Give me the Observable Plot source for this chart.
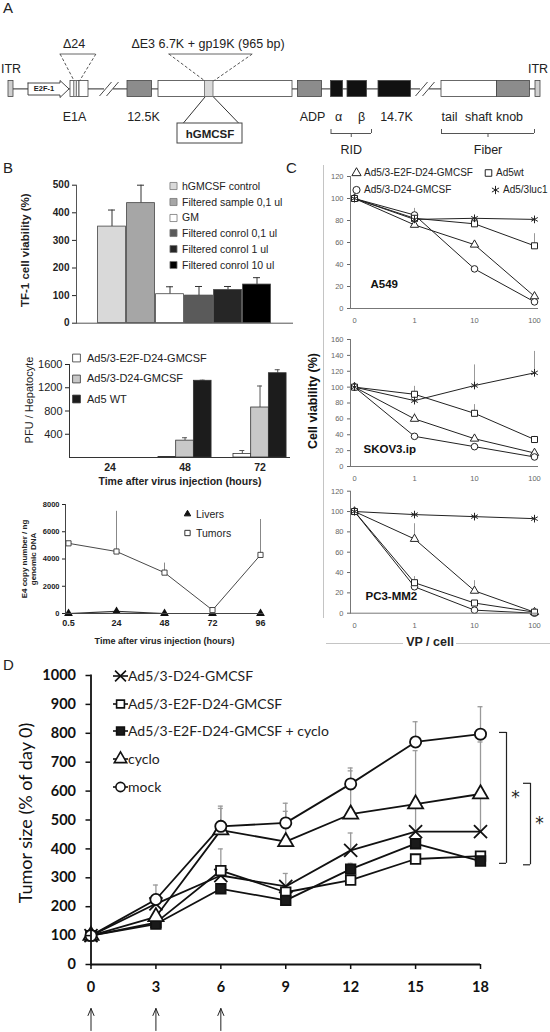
<!DOCTYPE html>
<html>
<head>
<meta charset="utf-8">
<script src="https://cdn.jsdelivr.net/npm/d3@7"></script>
<script src="https://cdn.jsdelivr.net/npm/@observablehq/plot@0.6"></script>
<style>
  html, body { margin: 0; padding: 0; background: #fff; }
  #fig { position: relative; width: 550px; height: 1032px; overflow: hidden; font-family: "Liberation Sans", Arial, sans-serif; color: #222; }
  .deco { position: absolute; line-height: 1; white-space: nowrap; }
</style>
</head>
<body>
<div id="fig"></div>
<script>
// ======================= DATA =======================
// Panel A - genome map (schematic positions along the construct)
const genomeBoxes = [
  {name: "ITR", start: 8, end: 13, kind: "itr"},
  {name: "E1A", start: 70, end: 79, kind: "white"},
  {name: "E1A", start: 79, end: 88, kind: "white"},
  {name: "12.5K", start: 127, end: 151.5, kind: "gray"},
  {name: "E3", start: 158, end: 292, kind: "white"},
  {name: "ADP", start: 297.5, end: 321.5, kind: "gray"},
  {name: "α", start: 330.5, end: 342.5, kind: "black"},
  {name: "β", start: 347, end: 366.5, kind: "black"},
  {name: "14.7K", start: 378, end: 410.5, kind: "black"},
  {name: "Fiber", start: 441, end: 496.5, kind: "white"},
  {name: "Ad3", start: 496.5, end: 529.5, kind: "gray"},
  {name: "ITR", start: 535, end: 540, kind: "itr"}
];
const genomeInserts = [{name: "Δ24", start: 73.7, end: 76.5}, {name: "hGMCSF", start: 204.5, end: 213}];
const genomeBreaks = [99, 415];
const promoter = {name: "E2F-1", start: 27.5, end: 68.5};
const geneLabels = [
  {t: "E1A", x: 74}, {t: "12.5K", x: 143}, {t: "ADP", x: 312}, {t: "α", x: 338}, {t: "β", x: 361},
  {t: "14.7K", x: 396}, {t: "tail", x: 449}, {t: "shaft", x: 478}, {t: "knob", x: 509}
];
const regionBrackets = [{t: "RID", start: 330.5, end: 371}, {t: "Fiber", start: 441, end: 534}];
const deletions = [
  {t: "Δ24", from: 59.6, to: 95.4, insStart: 73.7, insEnd: 79, textX: 73.6},
  {t: "ΔE3 6.7K + gp19K (965 bp)", from: 168.4, to: 251.8, insStart: 204.5, insEnd: 213, textX: 207.5}
];
const hgmcsfCallout = {t: "hGMCSF", from: 177, to: 242, lineTo: [182.5, 238.5]};

// Panel B (top) - TF-1 viability
const tfCategories = ["hGMCSF control", "Filtered sample 0,1 ul", "GM", "Filtered conrol 0,1 ul", "Filtered conrol 1 ul", "Filtered conrol 10 ul"];
const tfViability = [350, 435, 105, 100, 120, 140];
const tfError = [60, 65, 27, 33, 13, 25];

// Panel B (middle) - PFU / hepatocyte
const pfuTimes = ["24", "48", "72"];
const pfuViruses = ["Ad5/3-E2F-D24-GMCSF", "Ad5/3-D24-GMCSF", "Ad5 WT"];
const pfuE2F = [0, 10, 60];
const pfuE2FErr = [0, 0, 60];
const pfuD24 = [0, 290, 860];
const pfuD24Err = [0, 50, 370];
const pfuWT = [0, 1320, 1450];
const pfuWTErr = [0, 10, 60];

// Panel B (bottom) - E4 copy number
const e4Times = ["0.5", "24", "48", "72", "96"];
const e4Tumors = [5150, 4550, 3000, 250, 4300];
const e4TumorsErr = [0, 2950, 700, 0, 2600];
const e4Livers = [0, 150, 0, 0, 0];

// Panel C - cell viability vs VP/cell
const vpDoses = ["0", "1", "10", "100"];
const cViruses = ["Ad5/3-E2F-D24-GMCSF", "Ad5/3-D24-GMCSF", "Ad5wt", "Ad5/3luc1"];
const a549E2F = [100, 76, 58, 11];
const a549D24 = [100, 85, 36, 6];
const a549Wt = [100, 82, 77, 57];
const a549Luc = [100, 81, 82, 81];
const a549E2FErr = [0, 0, 0, 0];
const a549D24Err = [0, 6, 0, 0];
const a549WtErr = [0, 0, 0, 11];
const a549LucErr = [0, 0, 0, 0];
const skovE2F = [100, 60, 35, 17];
const skovD24 = [100, 38, 25, 12];
const skovWt = [100, 91, 67, 34];
const skovLuc = [100, 83, 102, 118];
const skovE2FErr = [0, 7, 0, 0];
const skovD24Err = [0, 0, 0, 0];
const skovWtErr = [0, 10, 11, 4];
const skovLucErr = [0, 0, 26, 27];
const pc3E2F = [100, 73, 22, 1];
const pc3D24 = [100, 26, 3, 0];
const pc3Wt = [100, 30, 10, 1];
const pc3Luc = [100, 97, 95, 93];
const pc3E2FErr = [0, 15, 10, 0];
const pc3D24Err = [0, 0, 0, 0];
const pc3WtErr = [0, 6, 0, 0];
const pc3LucErr = [0, 0, 0, 0];

// Panel D - tumor growth
const days = [0, 3, 6, 9, 12, 15, 18];
const dSeriesNames = ["Ad5/3-D24-GMCSF", "Ad5/3-E2F-D24-GMCSF", "Ad5/3-E2F-D24-GMCSF + cyclo", "cyclo", "mock"];
const dD24 = [100, 210, 308, 270, 395, 460, 460];
const dD24Err = [0, 0, 0, 0, 60, 90, 130];
const dE2F = [100, 145, 325, 250, 292, 365, 375];
const dE2FErr = [0, 0, 75, 65, 0, 0, 0];
const dE2FCyclo = [100, 140, 262, 222, 330, 418, 358];
const dE2FCycloErr = [0, 0, 0, 0, 20, 0, 0];
const dCyclo = [100, 165, 465, 425, 520, 555, 590];
const dCycloErr = [0, 0, 75, 105, 150, 185, 180];
const dMock = [100, 225, 478, 490, 625, 770, 797];
const dMockErr = [0, 50, 70, 68, 55, 70, 95];
const dosingDays = [0, 3, 6];
const sigLow = [350, 345];
const sigHigh = [803, 627];

// ======================= HELPERS =======================
const fig = document.getElementById("fig");
const SANS = "'Liberation Sans', Arial, sans-serif";
const baseStyle = (size, family = SANS) => ({fontFamily: family, fontSize: size + "px", color: "#222", background: "transparent", overflow: "visible"});
function place(node, left, top) {
  node.style.position = "absolute";
  node.style.left = left + "px";
  node.style.top = top + "px";
  fig.append(node);
  return node;
}
function deco(text, left, top, css = "") {
  const d = document.createElement("div");
  d.className = "deco";
  d.textContent = text;
  d.style.cssText += `left:${left}px;top:${top}px;${css}`;
  fig.append(d);
  return d;
}
const symMap = {circle: d3.symbolCircle, square: d3.symbolSquare, triangle: d3.symbolTriangle, times: d3.symbolTimes, asterisk: d3.symbolAsterisk};
function legend(items, o) {
  items.forEach((it, i) => {
    const h = o.rowH || 16;
    const row = document.createElement("div");
    row.style.cssText = `position:absolute;left:${o.left}px;top:${o.top + i * (o.step || 0) - h / 2}px;height:${h}px;display:flex;align-items:center;white-space:nowrap;font-family:${o.font || SANS};font-size:${o.size}px;font-weight:${o.weight || 400};color:#222;line-height:1;`;
    const w = o.swW;
    const svg = d3.create("svg").attr("width", w).attr("height", h).style("flex", "none").style("overflow", "visible");
    if (it.line) svg.append("line").attr("x1", 0).attr("x2", w).attr("y1", h / 2).attr("y2", h / 2).attr("stroke", "#111").attr("stroke-width", it.sw || 1);
    svg.append("path").attr("transform", `translate(${w / 2},${h / 2})`)
      .attr("d", d3.symbol(symMap[it.symbol], Math.PI * it.r * it.r)())
      .attr("fill", it.fill).attr("stroke", it.stroke || "#222").attr("stroke-width", it.sw || 1);
    const span = document.createElement("span");
    span.textContent = it.label;
    span.style.marginLeft = (o.gap || 0) + "px";
    row.append(svg.node(), span);
    fig.append(row);
  });
}
// rotated axis title centred on the frame's left edge
const yTitle = (text, dx, opts = {}) => Plot.text([text], {frameAnchor: "left", textAnchor: "middle", lineAnchor: "middle", rotate: -90, dx, fill: "#222", ...opts});

// ======================= PANEL A =======================
const BB_Y = 88.4, BOX_T = 80.5, BOX_B = 96.5, LBL_Y = 116, BR_Y = 133, BR_T = 149, DEL_Y = 53.5, DEL_T = 43.5;
const kindFill = {itr: "#cfcfcf", white: "#ffffff", gray: "#8c8c8c", black: "#111111"};
const headLen = 9;
const promoterOutline = [
  [promoter.start, BOX_T + 2], [promoter.end - headLen, BOX_T + 2], [promoter.end - headLen, BOX_T - 0.5],
  [promoter.end, BB_Y], [promoter.end - headLen, BOX_B + 0.5], [promoter.end - headLen, BOX_B - 2],
  [promoter.start, BOX_B - 2], [promoter.start, BOX_T + 2]
].map(([x, y]) => ({x, y}));
const itrBoxes = genomeBoxes.filter(d => d.kind === "itr");
const hgIns = genomeInserts[1];
const plotA = Plot.plot({
  width: 550, height: 160, margin: 0,
  x: {domain: [0, 550], range: [0, 550], axis: null},
  y: {domain: [0, 160], range: [0, 160], axis: null},
  style: baseStyle(12.5),
  marks: [
    Plot.ruleY([BB_Y], {x1: genomeBoxes[0].end, x2: genomeBoxes[genomeBoxes.length - 1].start, stroke: "#555", strokeWidth: 1.3}),
    Plot.rect(genomeBreaks, {x1: d => d + 5, x2: d => d + 14, y1: BB_Y - 2.5, y2: BB_Y + 2.5, fill: "white"}),
    Plot.link(genomeBreaks, {x1: d => d, y1: BOX_B - 1, x2: d => d + 12, y2: BOX_T + 1, stroke: "#333", strokeWidth: 0.9}),
    Plot.link(genomeBreaks, {x1: d => d + 7, y1: BOX_B - 1, x2: d => d + 19, y2: BOX_T + 1, stroke: "#333", strokeWidth: 0.9}),
    Plot.rect(genomeBoxes, {x1: "start", x2: "end", y1: BOX_T, y2: BOX_B, fill: d => kindFill[d.kind], stroke: "#444", strokeWidth: 0.8}),
    Plot.rect(genomeInserts, {x1: "start", x2: "end", y1: BOX_T, y2: BOX_B, fill: "#d9d9d9", stroke: "#666", strokeWidth: 0.8}),
    Plot.line(promoterOutline, {x: "x", y: "y", fill: "white", stroke: "#333", strokeWidth: 0.9}),
    Plot.text([promoter], {x: d => (d.start + d.end - headLen) / 2, y: BB_Y, text: "name", fontSize: 7.5, fontWeight: "bold"}),
    Plot.ruleY(deletions, {y: DEL_Y, x1: "from", x2: "to", stroke: "#666", strokeWidth: 1}),
    Plot.link(deletions, {x1: "from", y1: DEL_Y, x2: "insStart", y2: BOX_T, stroke: "#555", strokeDasharray: "3,2"}),
    Plot.link(deletions, {x1: "to", y1: DEL_Y, x2: "insEnd", y2: BOX_T, stroke: "#555", strokeDasharray: "3,2"}),
    Plot.text(deletions, {x: "textX", y: DEL_T, text: "t"}),
    Plot.link([hgmcsfCallout], {x1: () => hgIns.start, y1: BOX_B, x2: d => d.lineTo[0], y2: 123, stroke: "#333"}),
    Plot.link([hgmcsfCallout], {x1: () => hgIns.end, y1: BOX_B, x2: d => d.lineTo[1], y2: 123, stroke: "#333"}),
    Plot.rect([hgmcsfCallout], {x1: "from", x2: "to", y1: 123, y2: 143, fill: "white", stroke: "#444"}),
    Plot.text([hgmcsfCallout], {x: d => (d.from + d.to) / 2, y: 133.5, text: "t", fontWeight: "bold", fontSize: 11.5}),
    Plot.text(geneLabels, {x: "x", y: LBL_Y, text: "t"}),
    Plot.ruleY(regionBrackets, {y: BR_Y, x1: "start", x2: "end", stroke: "#555"}),
    Plot.ruleX(regionBrackets, {x: "start", y1: BR_Y - 4, y2: BR_Y, stroke: "#555"}),
    Plot.ruleX(regionBrackets, {x: "end", y1: BR_Y - 4, y2: BR_Y, stroke: "#555"}),
    Plot.ruleX(regionBrackets, {x: d => (d.start + d.end) / 2, y1: BR_Y, y2: BR_Y + 4, stroke: "#555"}),
    Plot.text(regionBrackets, {x: d => (d.start + d.end) / 2, y: BR_T, text: "t"}),
    Plot.text(itrBoxes, {x: d => (d.start + d.end) / 2, y: 68, text: "name"})
  ]
});
place(plotA, 0, 0);

// ======================= PANEL B top =======================
const tfRows = tfCategories.map((c, i) => ({c, v: tfViability[i], e: tfError[i]}));
const tfFills = ["#d9d9d9", "#a6a6a6", "#ffffff", "#5a5a5a", "#262626", "#000000"];
const plotB1 = Plot.plot({
  width: 300, height: 170, marginLeft: 76, marginRight: 7, marginTop: 14.7, marginBottom: 17.3,
  style: baseStyle(10),
  x: {type: "band", domain: tfCategories, range: [97, 271], padding: 0, axis: null},
  y: {domain: [0, 500]},
  color: {domain: tfCategories, range: tfFills},
  marks: [
    Plot.ruleX(tfRows, {x: "c", y1: "v", y2: d => d.v + d.e, stroke: "#333"}),
    Plot.tickY(tfRows, {x: "c", y: d => d.v + d.e, insetLeft: 11, insetRight: 11, stroke: "#333"}),
    Plot.barY(tfRows, {x: "c", y: "v", fill: "c", stroke: "#444", strokeWidth: 0.8, insetLeft: 0.6, insetRight: 0.6}),
    Plot.ruleY([0], {stroke: "#555"}),
    Plot.frame({anchor: "left", stroke: "#555"}),
    Plot.axisY({ticks: [0, 100, 200, 300, 400, 500], tickFormat: "d", tickSize: 4, tickPadding: 3, fontWeight: "bold", fontSize: 10, label: null}),
    yTitle("TF-1 cell viability (%)", -51, {dy: -4, fontWeight: "bold", fontSize: 11.5})
  ]
});
place(plotB1, 0, 170);
legend(tfCategories.map((c, i) => ({label: c, symbol: "square", r: 4, fill: tfFills[i], stroke: "#777", sw: 0.8})),
  {left: 169, top: 186, step: 15.8, size: 10.5, swW: 9, gap: 4, rowH: 14});

// ======================= PANEL B middle =======================
const pfuValues = [pfuE2F, pfuD24, pfuWT];
const pfuErrors = [pfuE2FErr, pfuD24Err, pfuWTErr];
const pfuFills = ["#ffffff", "#c8c8c8", "#1c1c1c"];
const pfuRows = [];
pfuTimes.forEach((t, gi) => pfuViruses.forEach((v, si) => pfuRows.push({t, gi, si, v: pfuValues[si][gi], e: pfuErrors[si][gi]})));
const GRP_OFF = 0.093, BAR_W = 0.236;
const barX1 = d => d.gi + GRP_OFF + d.si * BAR_W;
const barX2 = d => d.gi + GRP_OFF + (d.si + 1) * BAR_W;
const barXc = d => d.gi + GRP_OFF + (d.si + 0.5) * BAR_W;
const grpCenter = GRP_OFF + 1.5 * BAR_W;
const plotB2 = Plot.plot({
  width: 300, height: 160, marginLeft: 69, marginRight: 10, marginTop: 24, marginBottom: 43,
  style: baseStyle(11),
  x: {domain: [0, 3], range: [76, 301]},
  y: {domain: [0, 1600]},
  marks: [
    Plot.ruleX(pfuRows.filter(d => d.e > 0), {x: barXc, y1: "v", y2: d => d.v + d.e, stroke: "#555"}),
    Plot.ruleY(pfuRows.filter(d => d.e > 0), {y: d => d.v + d.e, x1: barXc, x2: barXc, insetLeft: -2.5, insetRight: -2.5, stroke: "#555"}),
    Plot.rect(pfuRows, {x1: barX1, x2: barX2, y1: 0, y2: "v", fill: d => pfuFills[d.si], stroke: "#333", strokeWidth: 0.8}),
    Plot.ruleY([0], {stroke: "#333"}),
    Plot.frame({anchor: "left", stroke: "#333"}),
    Plot.axisY({ticks: [400, 800, 1200, 1600], tickFormat: "d", tickSize: 4, tickPadding: 3, fontSize: 11, fill: "#222", label: null}),
    yTitle("PFU / Hepatocyte", -40, {dy: -11, fontSize: 11}),
    Plot.axisX({ticks: pfuTimes.map((t, i) => i + grpCenter), tickFormat: d => pfuTimes[Math.round(d - grpCenter)],
      tickSize: 0, tickPadding: 6, fontWeight: "bold", fontSize: 10.5, label: null}),
    Plot.text(["Time after virus injection (hours)"], {frameAnchor: "bottom", dy: 27, fontWeight: "bold", fontSize: 10.5, fill: "#222"})
  ]
});
place(plotB2, 0, 340);
legend(pfuViruses.map((v, i) => ({label: v, symbol: "square", r: 4.4, fill: pfuFills[i], stroke: "#333", sw: 0.8})),
  {left: 72, top: 358, step: 20.7, size: 11, swW: 9, gap: 6, rowH: 16});

// ======================= PANEL B bottom =======================
const e4Rows = e4Times.map((t, i) => ({t, v: e4Tumors[i], e: e4TumorsErr[i]}));
const liverRows = e4Times.map((t, i) => ({t, v: e4Livers[i]}));
const plotB3 = Plot.plot({
  width: 290, height: 160, marginLeft: 65, marginRight: 27, marginTop: 14, marginBottom: 37,
  style: baseStyle(8),
  x: {type: "point", domain: e4Times, padding: 0.0625},
  y: {domain: [0, 8000]},
  marks: [
    Plot.ruleX(e4Rows.filter(d => d.e > 0), {x: "t", y1: "v", y2: d => d.v + d.e, stroke: "#888"}),
    Plot.line(e4Rows, {x: "t", y: "v", stroke: "#333", strokeWidth: 0.9}),
    Plot.line(liverRows, {x: "t", y: "v", stroke: "#333", strokeWidth: 1.2}),
    Plot.dot(liverRows, {x: "t", y: "v", symbol: "triangle", r: 2.3, fill: "#111", stroke: "#111"}),
    Plot.dot(e4Rows, {x: "t", y: "v", symbol: "square", r: 2.9, fill: "white", stroke: "#333", strokeWidth: 0.9}),
    Plot.ruleY([0], {stroke: "#444"}),
    Plot.frame({anchor: "left", stroke: "#444"}),
    Plot.axisY({ticks: [0, 2000, 4000, 6000, 8000], tickFormat: "d", tickSize: 3, tickPadding: 3, fontWeight: "bold", fontSize: 7.5, label: null}),
    Plot.axisX({tickSize: 0, tickPadding: 6, fontWeight: "bold", fontSize: 9,
      label: "Time after virus injection (hours)", labelAnchor: "center", labelArrow: "none", labelOffset: 30}),
    yTitle("E4 copy number / ng\ngenomic DNA", -36.5, {fontWeight: "bold", fontSize: 8, lineHeight: 1.1})
  ]
});
place(plotB3, 0, 490);
legend([{label: "Livers", symbol: "triangle", r: 2.4, fill: "#111", stroke: "#111"}, {label: "Tumors", symbol: "square", r: 3, fill: "white", stroke: "#333"}],
  {left: 183, top: 514, step: 19.3, size: 10.5, swW: 9, gap: 4, rowH: 14});

// ======================= PANEL C =======================
const cSymbols = ["triangle", "circle", "square", "asterisk"];
const cRadius = [3.1, 3.3, 3.4, 3.6];
function cellPanel({top, height, mt, mb, ymax, name, series, errs, nameDx, nameDy, extra = []}) {
  const rows = [];
  cViruses.forEach((virus, si) => series[si].forEach((v, di) => rows.push({virus, si, dose: vpDoses[di], v, e: errs[si][di]})));
  const plot = Plot.plot({
    width: 280, height, marginLeft: 80, marginRight: 12, marginTop: mt, marginBottom: mb,
    style: baseStyle(7.5),
    x: {type: "point", domain: vpDoses, padding: 0.05},
    y: {domain: [0, ymax]},
    marks: [
      Plot.ruleX(rows.filter(d => d.e > 0), {x: "dose", y1: "v", y2: d => d.v + d.e, stroke: "#999", strokeWidth: 1}),
      Plot.line(rows, {x: "dose", y: "v", z: "virus", stroke: "#222", strokeWidth: 1}),
      ...cViruses.map((virus, si) => Plot.dot(rows.filter(d => d.si === si), {x: "dose", y: "v", symbol: cSymbols[si], r: cRadius[si],
        fill: si === 3 ? "none" : "white", stroke: "#222", strokeWidth: 1})),
      Plot.ruleY([0], {stroke: "#777"}),
      Plot.frame({anchor: "left", stroke: "#777"}),
      Plot.axisY({ticks: d3.range(0, ymax + 1, 20), tickFormat: "d", tickSize: 3, tickPadding: 4, color: "#666", fontSize: 7.5, label: null}),
      Plot.axisX({tickSize: 0, tickPadding: 9, color: "#666", fontSize: 7.5, label: null}),
      Plot.text([name], {frameAnchor: "bottom-left", dx: nameDx, dy: nameDy, fontWeight: "bold", fontSize: 11.5, textAnchor: "start", fill: "#111"}),
      ...extra
    ]
  });
  return place(plot, 270, top);
}
cellPanel({top: 170, height: 160, mt: 6, mb: 22, ymax: 120, name: "A549",
  series: [a549E2F, a549D24, a549Wt, a549Luc], errs: [a549E2FErr, a549D24Err, a549WtErr, a549LucErr], nameDx: 20, nameDy: -21});
cellPanel({top: 330, height: 160, mt: 9, mb: 24, ymax: 160, name: "SKOV3.ip",
  series: [skovE2F, skovD24, skovWt, skovLuc], errs: [skovE2FErr, skovD24Err, skovWtErr, skovLucErr], nameDx: 13, nameDy: -14,
  extra: [yTitle("Cell viability (%)", -38, {dy: -2, fontWeight: "bold", fontSize: 12.5, fill: "#111"})]});
cellPanel({top: 480, height: 160, mt: 10.7, mb: 27.3, ymax: 120, name: "PC3-MM2",
  series: [pc3E2F, pc3D24, pc3Wt, pc3Luc], errs: [pc3E2FErr, pc3D24Err, pc3WtErr, pc3LucErr], nameDx: 15, nameDy: -13});
// legend of panel C (two columns)
const cLegendPos = [[352, 173], [352, 190], [484, 173], [491, 190]];
cViruses.forEach((v, i) => legend([{label: v, symbol: cSymbols[i], r: cRadius[i] + 0.3, fill: i === 3 ? "none" : "white", stroke: "#222"}],
  {left: cLegendPos[i][0], top: cLegendPos[i][1], size: 10, swW: 9, gap: 3, rowH: 14}));

// ======================= PANEL D =======================
const dValues = [dD24, dE2F, dE2FCyclo, dCyclo, dMock];
const dErrors = [dD24Err, dE2FErr, dE2FCycloErr, dCycloErr, dMockErr];
const dSymbols = ["times", "square", "square", "triangle", "circle"];
const dFills = ["none", "white", "#1a1a1a", "white", "white"];
const dRadius = [6, 5.4, 5.4, 5.6, 5.6];
const dRows = [];
dSeriesNames.forEach((s, si) => days.forEach((day, di) => dRows.push({s, si, day, v: dValues[si][di], e: dErrors[si][di]})));
const dErr = dRows.filter(d => d.e > 0);
const sig = sigLow.map((lo, i) => ({lo, hi: sigHigh[i], i}));
const thinArrow = {draw(ctx, l) { ctx.moveTo(0, 0); ctx.lineTo(0, -l); ctx.moveTo(-3, -l + 7); ctx.lineTo(0, -l); ctx.lineTo(3, -l + 7); }};
const plotD = Plot.plot({
  width: 550, height: 382, marginLeft: 90.5, marginRight: 70, marginTop: 25, marginBottom: 68,
  style: baseStyle(14.5, "Lato, 'Liberation Sans', sans-serif"),
  x: {domain: [0, 18]},
  y: {domain: [0, 1000]},
  marks: [
    Plot.ruleX(dErr, {x: "day", y1: "v", y2: d => d.v + d.e, stroke: "#9a9a9a", strokeWidth: 1.3}),
    Plot.ruleY(dErr, {y: d => d.v + d.e, x1: "day", x2: "day", insetLeft: -2.5, insetRight: -2.5, stroke: "#9a9a9a", strokeWidth: 1.3}),
    Plot.line(dRows, {x: "day", y: "v", z: "s", stroke: "#111", strokeWidth: 1.8}),
    ...dSeriesNames.map((s, si) => Plot.dot(dRows.filter(d => d.si === si), {x: "day", y: "v", symbol: dSymbols[si], r: dRadius[si],
      fill: dFills[si], stroke: "#111", strokeWidth: 1.8})),
    Plot.ruleY([0], {stroke: "#111", strokeWidth: 1.8}),
    Plot.frame({anchor: "left", stroke: "#111", strokeWidth: 1.8}),
    Plot.axisY({ticks: d3.range(0, 1001, 100), tickFormat: "d", tickSize: 5, tickPadding: 10, fontWeight: "bold", strokeWidth: 1.5, color: "#111", label: null}),
    Plot.axisX({ticks: days, tickFormat: "d", tickSize: 5, tickPadding: 12, fontWeight: "bold", strokeWidth: 1.5, color: "#111", label: null}),
    yTitle("Tumor size (% of day 0)", -65, {dy: -7, fontSize: 18, fill: "#111"}),
    Plot.vector(dosingDays, {x: d => d, frameAnchor: "bottom", length: 22, anchor: "start", shape: thinArrow, dy: 66, stroke: "#222", strokeWidth: 1}),
    ...sig.map(s => Plot.ruleX([s], {x: () => 18, y1: "lo", y2: "hi", dx: 26 + 24 * s.i, stroke: "#222", strokeWidth: 1.2})),
    ...sig.map(s => Plot.ruleY([s.lo, s.hi], {y: d => d, x1: () => 18, x2: () => 18, insetLeft: -7, dx: 26 + 24 * s.i, stroke: "#222", strokeWidth: 1.2})),
    ...sig.map(s => Plot.text([s], {x: () => 18, y: d => (d.lo + d.hi) / 2, text: () => "*", dx: 35 + 24 * s.i, fontSize: 17, fill: "#222", fontFamily: "DejaVu Sans"}))
  ]
});
place(plotD, 0, 650);
legend(dSeriesNames.map((s, i) => ({label: s, symbol: dSymbols[i], r: dRadius[i] - 1, fill: dFills[i], stroke: "#111", sw: 1.6, line: true})),
  {left: 113, top: 676, step: 27.7, size: 14, swW: 15, gap: 0, rowH: 20, font: "Lato, 'Liberation Sans', sans-serif"});

// ======================= DECORATIONS =======================
deco("A", 3, 0, "font-size:15px;");
deco("B", 3, 160, "font-size:15px;");
deco("C", 286, 160, "font-size:15px;");
deco("D", 3, 657, "font-size:15px;");
deco("", 323, 165, "height:453px;border-left:1px solid #c4c4c4;");
deco("", 326, 643, "width:77px;border-top:1px solid #c4c4c4;");
deco("", 456, 643, "width:94px;border-top:1px solid #c4c4c4;");
deco("VP / cell", 380, 636, "width:100px;text-align:center;font-size:12.5px;font-weight:bold;");
</script>
</body>
</html>
